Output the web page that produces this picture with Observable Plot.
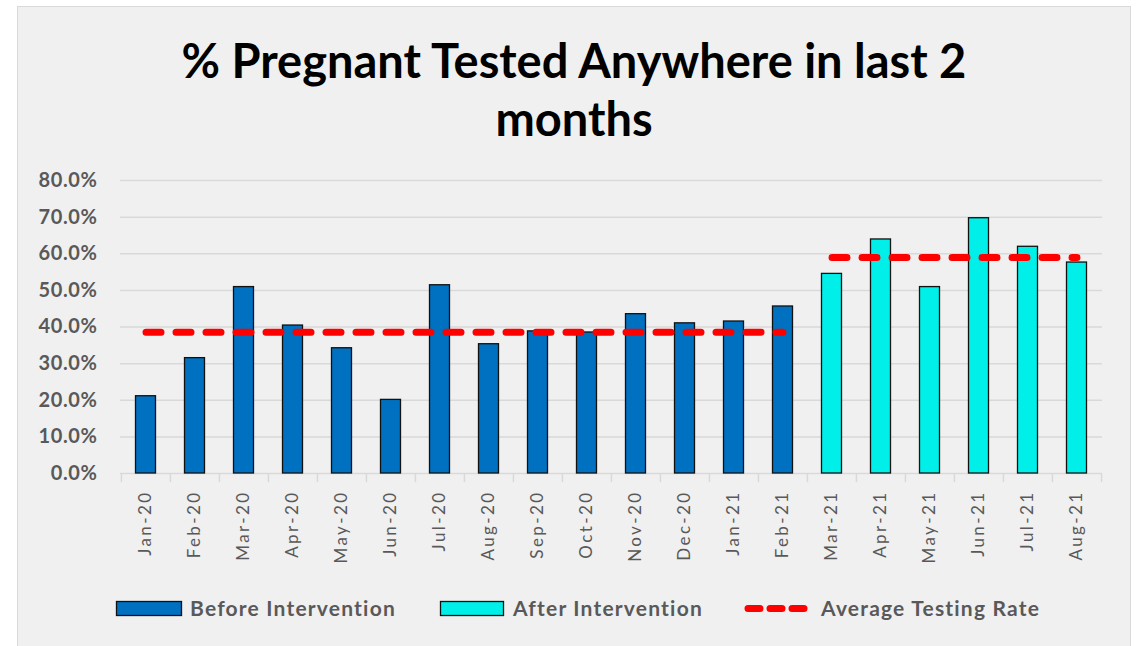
<!DOCTYPE html>
<html><head><meta charset="utf-8">
<script src="https://cdn.jsdelivr.net/npm/d3@7"></script>
<script src="https://cdn.jsdelivr.net/npm/@observablehq/plot@0.6"></script>
<style>
body{margin:0;background:#fff;width:1141px;height:646px;overflow:hidden;position:relative;font-family:Lato,sans-serif}
#frame{position:absolute;left:17px;top:6px;width:1114px;height:700px;background:#f0f0f0;border:1.5px solid #d9d9d9;box-sizing:border-box}
#title{position:absolute;left:0;width:1148px;top:31px;text-align:center;font-weight:700;font-size:47px;font-family:Lato,sans-serif;line-height:58px;color:#000}
#chart{position:absolute;left:0;top:160px}
#chart g[aria-label="y-axis tick label"] text{font-weight:700;letter-spacing:0.6px}
#chart g[aria-label="x-axis tick label"] text{letter-spacing:2.4px}
.lg{position:absolute;top:595px;font-family:Lato,sans-serif;font-weight:700;font-size:21px;letter-spacing:1.2px;color:#595959;line-height:26px}
.sw{position:absolute}
</style></head>
<body>
<div id="frame"></div>
<div id="title">% Pregnant Tested Anywhere in last 2<br>months</div>
<div id="chart"></div>
<svg class="sw" style="left:110px;top:596px" width="720" height="26"></svg>
<div class="lg" style="left:190px">Before Intervention</div>
<div class="lg" style="left:513px">After Intervention</div>
<div class="lg" style="left:821px">Average Testing Rate</div>
<script>
const months = ["Jan-20","Feb-20","Mar-20","Apr-20","May-20","Jun-20","Jul-20","Aug-20","Sep-20","Oct-20","Nov-20","Dec-20","Jan-21","Feb-21","Mar-21","Apr-21","May-21","Jun-21","Jul-21","Aug-21"];
const rates = [21.1,31.5,50.9,40.4,34.2,20.1,51.4,35.3,38.8,38.5,43.5,41.0,41.5,45.6,54.5,63.9,50.9,69.7,61.9,57.6];
const phases = ["Before Intervention","Before Intervention","Before Intervention","Before Intervention","Before Intervention","Before Intervention","Before Intervention","Before Intervention","Before Intervention","Before Intervention","Before Intervention","Before Intervention","Before Intervention","Before Intervention","After Intervention","After Intervention","After Intervention","After Intervention","After Intervention","After Intervention"];
const phaseNames = ["Before Intervention","After Intervention"];
const phaseAverages = [38.6, 59.0];
const phaseColors = ["#0070C0","#00EFE8"];
const yTicks = [0,10,20,30,40,50,60,70,80];

const data = months.map((m,i)=>({month:m, rate:rates[i], phase:phases[i]}));
const avgData = months.map((m,i)=>({month:m, phase:phases[i], avg:phaseAverages[phaseNames.indexOf(phases[i])]}));

const W=1141, mL=120, mR=39;
const bw = (W-mL-mR)/months.length;

const chart = Plot.plot({
  width:W, height:420, marginTop:20, marginBottom:107, marginLeft:mL, marginRight:mR,
  style:{background:"transparent", overflow:"visible", fontFamily:"Lato, sans-serif"},
  x:{domain:months, padding:0},
  y:{domain:[0,80]},
  color:{domain:phaseNames, range:phaseColors},
  marks:[
    Plot.gridY(yTicks.slice(1), {stroke:"#d9d9d9", strokeOpacity:1, strokeWidth:1.5}),
    Plot.ruleY([0], {stroke:"#d9d9d9", strokeWidth:1.5}),
    Plot.ruleX(months, {x:d=>d, y1:0, y2:-2.5, dx:-bw/2, stroke:"#d9d9d9", strokeWidth:1.5}),
    Plot.ruleX([months[months.length-1]], {x:d=>d, y1:0, y2:-2.5, dx:bw/2, stroke:"#d9d9d9", strokeWidth:1.5}),
    Plot.barY(data, {x:"month", y:"rate", fill:"phase", stroke:"#111", strokeWidth:1.3, insetLeft:14.5, insetRight:14.5}),
    Plot.lineY(avgData, {x:"month", y:"avg", z:"phase", stroke:"#ff0000", strokeWidth:7, strokeDasharray:"15,15", strokeLinecap:"round"}),
    Plot.axisY({ticks:yTicks, tickFormat:d=>d.toFixed(1)+"%", tickSize:0, tickPadding:23, fontSize:20, color:"#595959", label:null}),
    Plot.axisX({tickRotate:-90, tickSize:0, tickPadding:17, fontSize:17, color:"#595959", label:null})
  ]
});
document.getElementById("chart").appendChild(chart);

const sw = d3.select("svg.sw");
sw.append("rect").attr("x",6.5).attr("y",5.5).attr("width",65).attr("height",14).attr("fill",phaseColors[0]).attr("stroke","#111").attr("stroke-width",1.3);
sw.append("rect").attr("x",330.5).attr("y",5.5).attr("width",63).attr("height",14).attr("fill",phaseColors[1]).attr("stroke","#111").attr("stroke-width",1.3);
sw.append("line").attr("x1",638).attr("x2",702).attr("y1",12.5).attr("y2",12.5).attr("stroke","#ff0000").attr("stroke-width",7).attr("stroke-dasharray","12,10").attr("stroke-linecap","round");
</script>
</body></html>
